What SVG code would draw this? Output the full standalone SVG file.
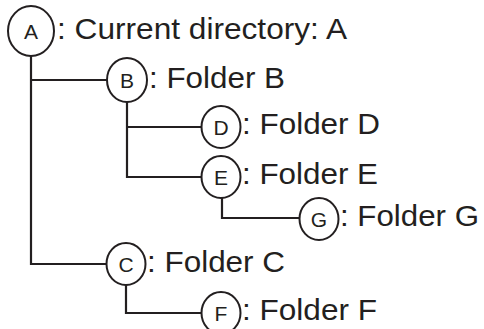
<svg xmlns="http://www.w3.org/2000/svg" width="484" height="329" viewBox="0 0 484 329">
<style>
.n ellipse{fill:#fff;stroke:#231f20;stroke-width:2}
.l{font-family:"Liberation Sans",Arial,sans-serif;font-size:21px;fill:#231f20;text-anchor:middle}
.t{font-family:"Liberation Sans",Arial,sans-serif;font-size:29px;fill:#231f20}
.c path{fill:none;stroke:#231f20;stroke-width:2.2}
</style>
<rect width="484" height="329" fill="#fff"/>
<g class="c" id="connectors">
<path d="M31,56 V264 H107"/>
<path d="M31,80 H107"/>
<path d="M127,102 V177 H202"/>
<path d="M127,127 H202"/>
<path d="M222,198 V218 H300"/>
<path d="M126,285 V313 H202"/>
</g>
<g class="n" id="A"><ellipse cx="31" cy="31" rx="23" ry="25"/><text class="l" x="31" y="38.5">A</text><text class="t" x="57" y="39" textLength="290" lengthAdjust="spacingAndGlyphs">: Current directory: A</text></g>
<g class="n" id="B"><ellipse cx="127" cy="80" rx="20" ry="22"/><text class="l" x="127" y="87.5">B</text><text class="t" x="149" y="88" textLength="136" lengthAdjust="spacingAndGlyphs">: Folder B</text></g>
<g class="n" id="D"><ellipse cx="221" cy="127" rx="19.5" ry="21"/><text class="l" x="221" y="134.5">D</text><text class="t" x="242" y="134" textLength="138" lengthAdjust="spacingAndGlyphs">: Folder D</text></g>
<g class="n" id="E"><ellipse cx="221" cy="177" rx="19.5" ry="21"/><text class="l" x="221" y="184.5">E</text><text class="t" x="242" y="184" textLength="136" lengthAdjust="spacingAndGlyphs">: Folder E</text></g>
<g class="n" id="G"><ellipse cx="319" cy="219" rx="19.5" ry="21"/><text class="l" x="319" y="226.5">G</text><text class="t" x="340" y="226" textLength="139" lengthAdjust="spacingAndGlyphs">: Folder G</text></g>
<g class="n" id="C"><ellipse cx="126" cy="264" rx="19.5" ry="21"/><text class="l" x="126" y="271.5">C</text><text class="t" x="147" y="272" textLength="138" lengthAdjust="spacingAndGlyphs">: Folder C</text></g>
<g class="n" id="F"><ellipse cx="221" cy="313" rx="19.5" ry="21"/><text class="l" x="221" y="320.5">F</text><text class="t" x="242" y="320" textLength="135" lengthAdjust="spacingAndGlyphs">: Folder F</text></g>
</svg>
